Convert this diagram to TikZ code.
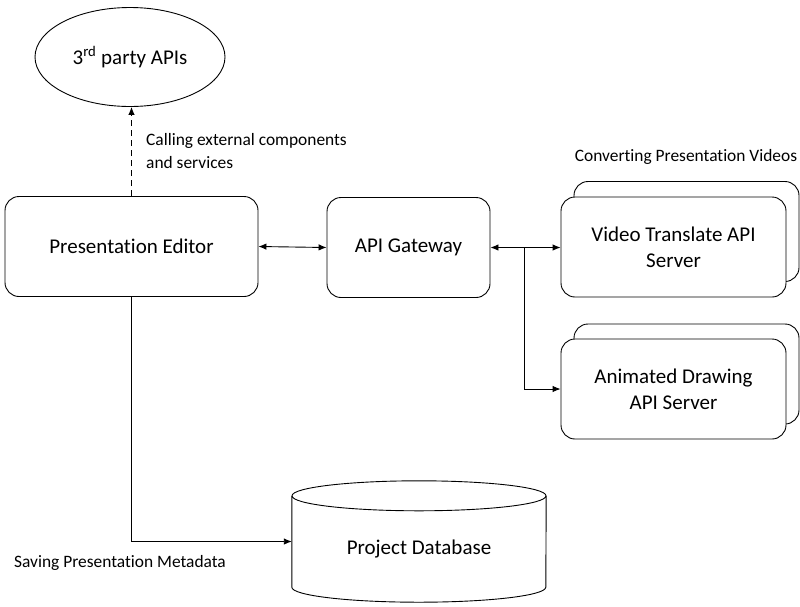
\documentclass[tikz,border=0pt]{standalone}
\usepackage{fontspec}
\setmainfont{Carlito}[Ligatures=NoCommon]
\usetikzlibrary{arrows.meta,positioning,calc,shapes.geometric}

\begin{document}
\begin{tikzpicture}[
    x=1pt, y=-1pt,
    box/.style={
      draw,
      fill=white,
      line width=0.9pt,
      minimum width=#1,
      minimum height=100pt,
      rounded corners=14pt,
      font=\fontsize{21}{26}\selectfont,
      align=center
    },
    arr/.style={
      -{Latex[length=8pt,width=6.5pt]},
      line width=0.9pt
    },
    dblarr/.style={
      {Latex[length=8pt,width=6.5pt]}-{Latex[length=8pt,width=6.5pt]},
      line width=0.9pt
    },
    note/.style={
      font=\fontsize{17.4}{23}\selectfont,
      align=left,
      inner sep=0pt
    }
  ]
  \useasboundingbox (0,0) rectangle (800,606);

  % External APIs
  \node[draw, ellipse, line width=0.9pt, minimum width=190pt, minimum height=99pt,
        font=\fontsize{21}{26}\selectfont] (apis) at (130,57)
    {3\textsuperscript{rd} party APIs};

  % Editor and gateway
  \node[box=253pt] (editor) at (131.5,246.5) {Presentation Editor};
  \node[box=163pt] (gateway) at (408.5,247.5) {API Gateway};

  % API servers (stacked)
  \node[box=225pt] (videoback) at (686.5,231.5) {};
  \node[box=225pt] (video) at (673.5,247) {Video Translate API\\Server};
  \node[box=225pt] (animback) at (686.5,374) {};
  \node[box=225pt] (anim) at (673.5,389) {Animated Drawing\\API Server};
  \node[note, align=center] (convert) at (686,157) {Converting Presentation Videos};

  % Database
  \node[minimum width=254pt, minimum height=121pt, text height=31pt, text depth=4.5pt,
        font=\fontsize{21}{26}\selectfont] (db) at (419,541.5) {Project Database};
  \draw[line width=0.9pt] ($(db.north)+(0,15)$) ellipse[x radius=127pt, y radius=15pt];
  \draw[line width=0.9pt] ($(db.north west)+(0,15)$) -- ($(db.south west)+(0,-15)$)
    arc[start angle=180, end angle=360, x radius=127pt, y radius=15pt]
    -- ($(db.north east)+(0,15)$);

  % Arrows
  \draw[arr,dash pattern=on 6pt off 4pt] (editor.north) -- (editor.north |- apis.south);
  \node[note, anchor=west] (calling) at (146,151)
    {Calling external components\\and services};
  \draw[dblarr] (editor.east) -- (gateway.west);
  \draw[dblarr] (gateway.east) -- (gateway.east -| video.west);
  \coordinate (split) at (524,247.5);
  \draw[arr] (split) |- (anim.west);
  \draw[arr] (editor.south) |- (db.west);
  \node[note, anchor=west] (saving) at (14,563) {Saving Presentation Metadata};
\end{tikzpicture}
\end{document}
